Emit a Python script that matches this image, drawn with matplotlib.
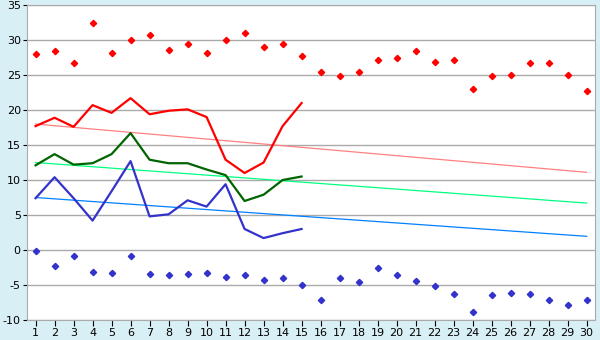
import matplotlib.pyplot as plt

plt.rcParams["axes.unicode_minus"] = False

days = list(range(1, 31))

# daily max / min markers
max_pts = [28.0, 28.4, 26.7, 32.5, 28.2, 30.0, 30.7, 28.6, 29.4, 28.1,
           30.0, 31.0, 29.0, 29.5, 27.7, 25.4, 24.8, 25.5, 27.1, 27.5,
           28.5, 26.8, 27.1, 23.0, 24.8, 25.0, 26.7, 26.7, 25.0, 22.7]
min_pts = [-0.2, -2.3, -0.9, -3.2, -3.3, -0.9, -3.5, -3.6, -3.5, -3.3,
           -3.9, -3.6, -4.3, -4.0, -5.0, -7.2, -4.0, -4.6, -2.6, -3.6,
           -4.5, -5.2, -6.3, -8.9, -6.5, -6.1, -6.3, -7.2, -7.9, -7.2]

# observed lines, first 15 days
obs_days = list(range(1, 16))
max_line = [17.7, 18.9, 17.6, 20.7, 19.6, 21.7, 19.4, 19.9, 20.1, 19.0,
            12.9, 11.0, 12.5, 17.7, 21.0]
mean_line = [12.1, 13.7, 12.2, 12.4, 13.7, 16.7, 12.9, 12.4, 12.4, 11.5,
             10.7, 7.0, 7.9, 10.0, 10.5]
min_line = [7.4, 10.4, 7.4, 4.2, 8.4, 12.7, 4.8, 5.1, 7.1, 6.2,
            9.4, 3.0, 1.7, 2.4, 3.0]

# trend lines (start, end) over days 1..30
trend_x = [1, 30]
trend_max = [18.0, 11.1]
trend_mean = [12.5, 6.7]
trend_min = [7.5, 1.95]

bg = "#d9eff6"
fig = plt.figure(figsize=(6, 3.4), dpi=100, facecolor=bg)
ax = fig.add_axes([0.045, 0.059, 0.947, 0.926])
ax.set_facecolor("white")

ax.plot(trend_x, trend_max, color="#ff8080", lw=0.9)
ax.plot(trend_x, trend_mean, color="#00ff80", lw=0.9)
ax.plot(trend_x, trend_min, color="#0080ff", lw=0.9)

ax.plot(obs_days, max_line, color="#ff0000", lw=1.6)
ax.plot(obs_days, mean_line, color="#006400", lw=1.6)
ax.plot(obs_days, min_line, color="#3333cc", lw=1.6)

ax.plot(days, max_pts, "D", color="#ff0000", ms=3.2, ls="none")
ax.plot(days, min_pts, "D", color="#3333cc", ms=3.2, ls="none")

ax.set_xlim(0.55, 30.45)
ax.set_ylim(-10, 35)
ax.set_xticks(days)
ax.set_yticks(range(-10, 36, 5))
ax.yaxis.grid(True, color="#aaaaaa", lw=1)
ax.set_axisbelow(True)
for s in ax.spines.values():
    s.set_color("#aaaaaa")
ax.tick_params(axis="both", labelsize=8, color="black", length=4, pad=2)
ax.tick_params(axis="y", length=3, pad=1.5)

plt.savefig("out.png", dpi=100, facecolor=bg)
